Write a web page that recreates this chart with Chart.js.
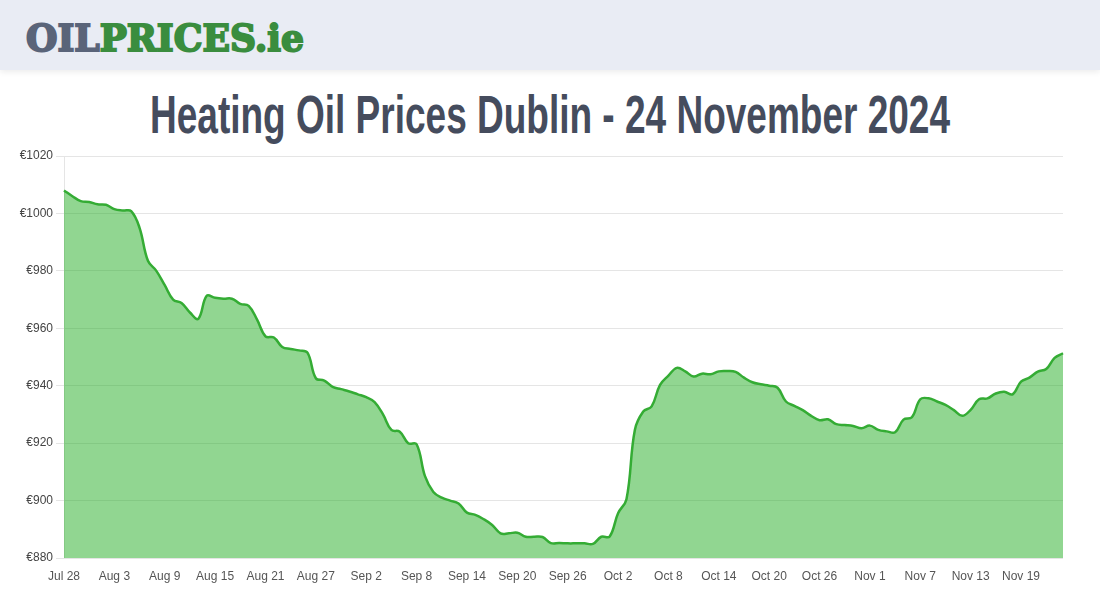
<!DOCTYPE html>
<html>
<head>
<meta charset="utf-8">
<script src="https://cdn.jsdelivr.net/npm/chart.js@4.4.1/dist/chart.umd.min.js"></script>
<style>
    html, body { margin: 0; padding: 0; background: #fff; width: 1100px; height: 600px; overflow: hidden; }
    #header {
        position: absolute; left: 0; top: 0; width: 1100px; height: 70px;
        background: #e9ecf4; box-shadow: 0 2px 6px rgba(0, 0, 0, 0.08);
    }
    #logo {
        position: absolute; left: 26px; top: 20px; white-space: nowrap;
        font-family: "DejaVu Serif", serif; font-weight: bold; font-size: 37px; line-height: 37px;
        transform-origin: left top;
    }
    #logo .oil { color: #5a6479; -webkit-text-stroke: 2px #5a6479; }
    #logo .prices { color: #3a8d3e; -webkit-text-stroke: 2px #3a8d3e; }
    #title {
        position: absolute; left: 0; top: 87px; margin: 0; white-space: nowrap;
        font-family: "Liberation Sans Narrow", "Liberation Sans", sans-serif; font-weight: bold;
        font-size: 54px; line-height: 54px; color: #454c5d;
        transform-origin: left top;
    }
    #chartBox { position: absolute; left: 0; top: 140px; width: 1100px; height: 460px; }
</style>
</head>
<body>
<div id="header"><span id="logo"><span class="oil">OIL</span><span class="prices">PRICES.ie</span></span></div>
<h1 id="title">Heating Oil Prices Dublin - 24 November 2024</h1>
<div id="chartBox"><canvas id="priceChart"></canvas></div>

<script>
'use strict';

// Daily price (EUR), 28 Jul 2024 -> 24 Nov 2024
var startDate  = new Date(2024, 6, 28);
var monthNames = ['Jan', 'Feb', 'Mar', 'Apr', 'May', 'Jun', 'Jul', 'Aug', 'Sep', 'Oct', 'Nov', 'Dec'];
var prices = [
    1008, 1006, 1004.3, 1004, 1003.2, 1003, 1001.5, 1001, 1000.8, 995,
    983.5, 980, 975, 970, 968.8, 965.5, 963.3, 971.3, 970.6, 970.3,
    970.3, 968.5, 967.8, 963, 957.2, 956.8, 953.5, 952.8, 952.3, 951.5,
    942.6, 941.8, 939.6, 938.8, 938, 937, 936, 934.3, 930, 924.6,
    924, 920, 919.6, 908.5, 903, 901, 900, 899, 895.8, 895,
    893.5, 891.5, 888.6, 888.6, 888.8, 887.4, 887.4, 887.3, 885.2, 885.2,
    885.1, 885.1, 885.1, 884.9, 887.4, 887.5, 895.6, 900.5, 924.6, 931,
    932.8, 940.3, 943.5, 946.2, 945, 943.2, 944.2, 944, 945, 945.1,
    944.8, 942.8, 941.2, 940.5, 940, 939.3, 934.5, 933, 931.5, 929.5,
    928, 928.3, 926.6, 926.3, 926, 925.2, 926.1, 924.6, 924.1, 923.8,
    928.2, 929, 935.3, 935.6, 934.5, 933.3, 931.5, 929.5, 931.6, 935.3,
    935.6, 937.3, 937.9, 937, 941.4, 942.8, 944.9, 945.8, 949.7, 951.3
];
var yTicks   = [880, 900, 920, 940, 960, 980, 1000, 1020];
var tickStep = 6; // one x label every 6 days

var labels = prices.map(function (p, i) {
    var d = new Date(startDate.getFullYear(), startDate.getMonth(), startDate.getDate() + i);
    return monthNames[d.getMonth()] + ' ' + d.getDate();
});

// squeeze a text block to a target width
function fitWidth(el, target) {
    var w = el.getBoundingClientRect().width;
    if (w > 0) {
        el.style.transform = 'scaleX(' + (target / w) + ')';
    }
}

var logo  = document.getElementById('logo');
var title = document.getElementById('title');
fitWidth(logo, 278);
fitWidth(title, 800);
title.style.left = '150px';

var axisFont = { family: '"Liberation Sans", Arial, sans-serif', size: 12 };

new Chart(document.getElementById('priceChart'), {
    type: 'line',
    data: {
        labels: labels,
        datasets: [{
            data: prices,
            borderColor: 'rgb(52, 172, 52)',
            backgroundColor: 'rgba(36, 174, 36, 0.5)',
            borderWidth: 2.5,
            fill: true,
            tension: 0.4,
            pointRadius: 0
        }]
    },
    options: {
        responsive: true,
        maintainAspectRatio: false,
        animation: false,
        layout: { padding: { left: 0, right: 37, top: 16, bottom: 0 } },
        plugins: { legend: { display: false }, tooltip: { enabled: false } },
        scales: {
            x: {
                grid: { display: false },
                border: { display: false },
                afterFit: function (scale) { scale.height = 42; },
                ticks: {
                    autoSkip: false,
                    maxRotation: 0,
                    minRotation: 0,
                    color: '#555',
                    font: axisFont,
                    callback: function (val, idx) {
                        return idx % tickStep === 0 ? labels[idx] : '';
                    }
                }
            },
            y: {
                min: yTicks[0],
                max: yTicks[yTicks.length - 1],
                grid: { color: 'rgba(0, 0, 0, 0.1)' },
                border: { color: 'rgba(0, 0, 0, 0.1)' },
                afterFit: function (scale) { scale.width = 64; },
                afterBuildTicks: function (scale) {
                    scale.ticks = yTicks.map(function (v) { return { value: v }; });
                },
                ticks: {
                    color: '#444',
                    font: axisFont,
                    callback: function (v) { return '€' + v; }
                }
            }
        }
    }
});
</script>
</body>
</html>
